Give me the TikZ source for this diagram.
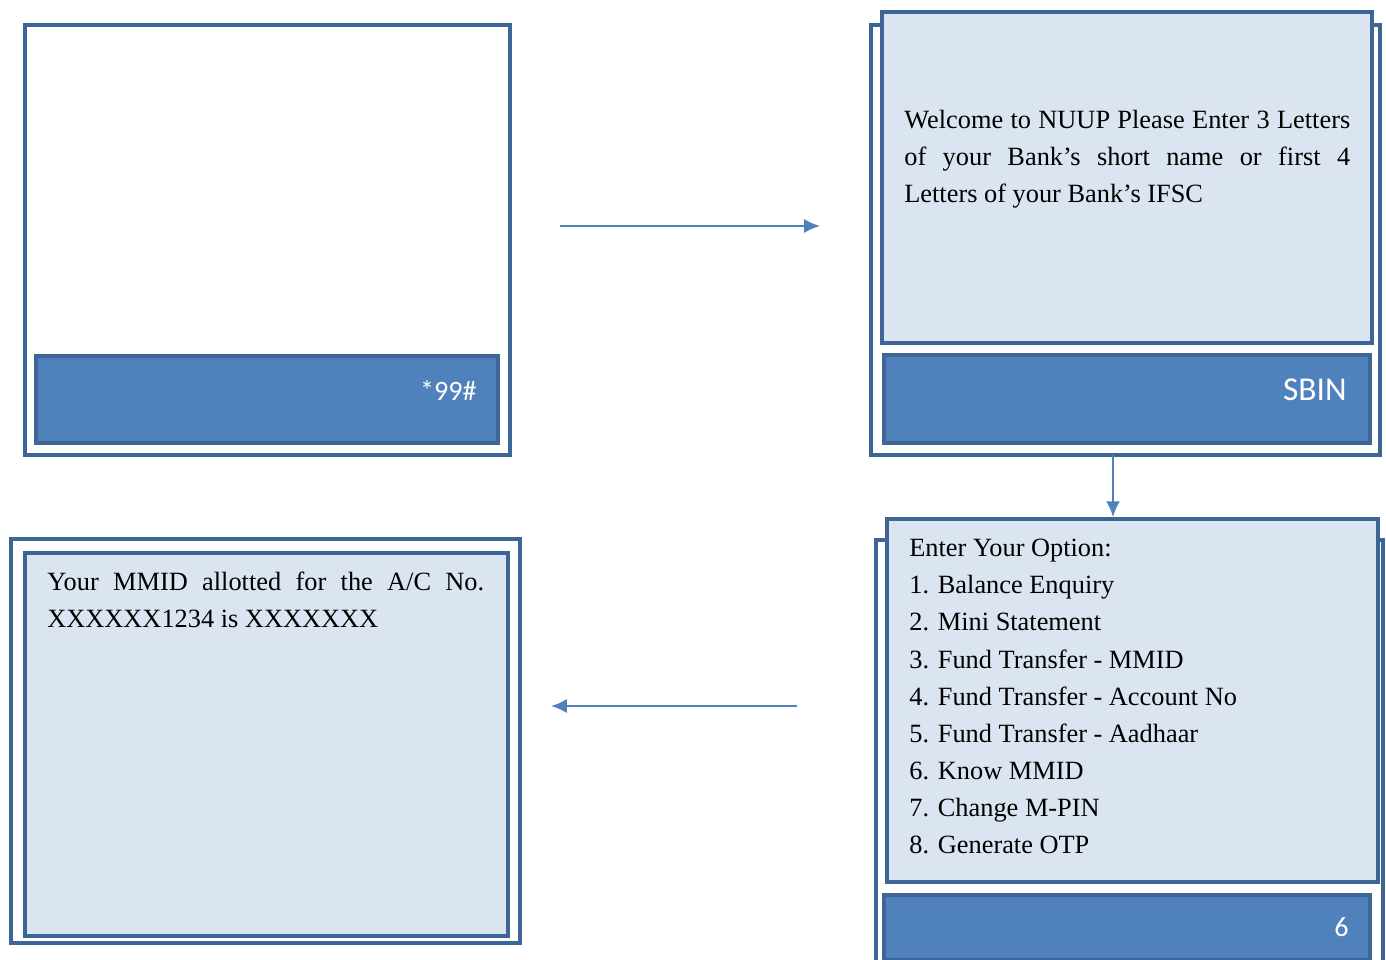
\documentclass[tikz,border=0pt]{standalone}
\usepackage{fontspec}
\setmainfont{Liberation Serif}
\newfontfamily\keyfont{Carlito}
\usepackage{xcolor}
\usetikzlibrary{positioning,fit,arrows.meta}
\definecolor{framecol}{HTML}{3D6696}
\definecolor{barcol}{HTML}{4F81BD}
\definecolor{screencol}{HTML}{DBE5F1}

\begin{document}
\begin{tikzpicture}[x=0.02cm,y=-0.02cm,
                    phone frame/.style={draw=framecol,line width=2.2pt,fill=white,inner sep=0pt},
                    screen box/.style={draw=framecol,line width=2.2pt,fill=screencol,inner sep=0pt},
                    key bar/.style={draw=framecol,line width=2.2pt,fill=barcol,inner sep=0pt},
                    key text/.style={font=\keyfont\fontsize{16}{16}\selectfont,text=white,anchor=east,inner sep=0pt},
                    screen text/.style={font=\fontsize{15}{21.1}\selectfont,anchor=north west,inner sep=0pt},
                    flow arrow/.style={-{Latex[length=9pt,width=8pt]},draw=barcol,line width=1.2pt}]
\useasboundingbox (0,0) rectangle (1386,960);

\node[phone frame,fit={(25,25) (510,455)}] (DialPhone) {};
\node[key bar,fit={(36,356) (498,443)}] (DialBar) {};
\node[key text] (DialKey) [shift={(-23,-9)}] at (DialBar.east) {*99\#};

\node[phone frame,fit={(871,25) (1380,455)}] (BankPhone) {};
\node[screen box,fit={(882,12) (1372,343)}] (BankScreen) {};
\node[key bar,fit={(884,355) (1370,443)}] (BankBar) {};
\node[key text,font=\keyfont\fontsize{19}{19}\selectfont] (BankKey) [shift={(-25,-9)}] at (BankBar.east) {SBIN};
\node[screen text,text width=8.92cm,align=justify] (BankText) at (904,110)
  {Welcome to NUUP Please Enter 3 Letters\linebreak of your Bank's short name or first 4\linebreak Letters of your Bank's IFSC};

\node[phone frame,fit={(876,540) (1383,980)}] (OptionPhone) {};
\node[screen box,fit={(887,519) (1378,882)}] (OptionScreen) {};
\node[key bar,fit={(884,895) (1370,960)}] (OptionBar) {};
\node[key text] (OptionKey) [shift={(-23,0)}] at (OptionBar.east) {6};
\node[screen text,align=left] (OptionText) at (909,539)
  {Enter Your Option:\\1. Balance Enquiry\\2. Mini Statement\\3. Fund Transfer - MMID\\4. Fund Transfer - Account No\\5. Fund Transfer - Aadhaar\\6. Know MMID\\7. Change M-PIN\\8. Generate OTP};

\node[phone frame,fit={(11,539) (520,943)}] (MmidPhone) {};
\node[screen box,fit={(25,553) (508,936)}] (MmidScreen) {};
\node[screen text,text width=8.74cm,align=justify] (MmidText) at (47,572)
  {Your MMID allotted for the A/C No.\linebreak XXXXXX1234 is XXXXXXX};

\coordinate (RightFrom) at (560,226);
\coordinate (RightTo) at (820,226);
\coordinate (DownFrom) at (1113,455);
\coordinate (LeftFrom) at (797,706);
\coordinate (LeftTo) at (551,706);
\draw[flow arrow] (RightFrom) -- (RightTo);
\draw[flow arrow] (DownFrom) -- (DownFrom |- OptionScreen.north);
\draw[flow arrow] (LeftFrom) -- (LeftTo);
\end{tikzpicture}
\end{document}
